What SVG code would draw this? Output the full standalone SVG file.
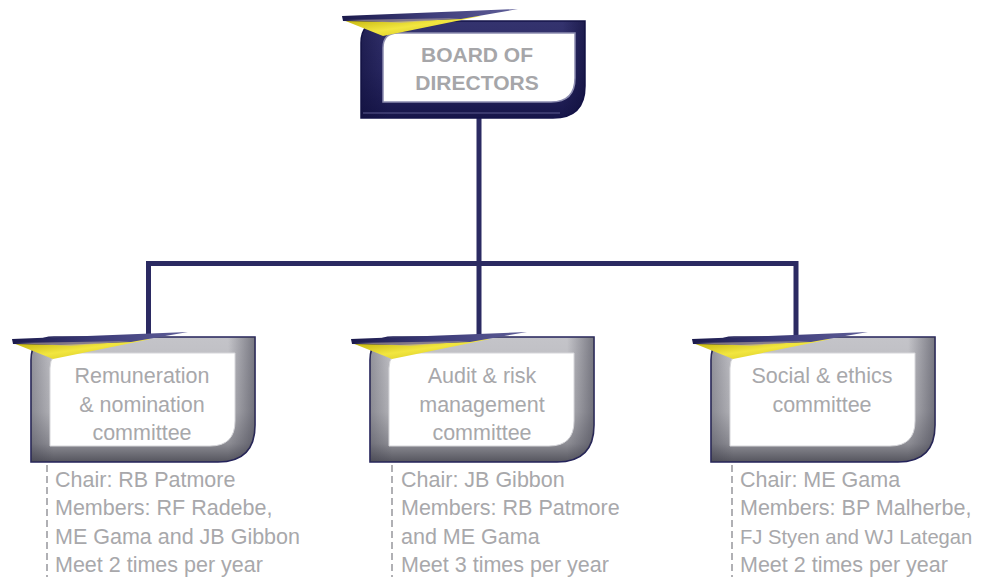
<svg xmlns="http://www.w3.org/2000/svg" width="984" height="577" viewBox="0 0 984 577">
<defs>
<linearGradient id="navyV" x1="0" y1="0" x2="0" y2="1">
<stop offset="0" stop-color="#34336e"/>
<stop offset="0.5" stop-color="#2a2963"/>
<stop offset="1" stop-color="#17164a"/>
</linearGradient>
<linearGradient id="navyH" x1="0" y1="0" x2="1" y2="0">
<stop offset="0" stop-color="#0f0e3a" stop-opacity="0.5"/>
<stop offset="0.12" stop-color="#0f0e3a" stop-opacity="0"/>
<stop offset="0.9" stop-color="#0f0e3a" stop-opacity="0"/>
<stop offset="1" stop-color="#0f0e3a" stop-opacity="0.6"/>
</linearGradient>
<linearGradient id="grayV" x1="0" y1="0" x2="0" y2="1">
<stop offset="0" stop-color="#c4c4c9"/>
<stop offset="0.6" stop-color="#b4b4b9"/>
<stop offset="0.85" stop-color="#8e8e95"/>
<stop offset="1" stop-color="#55555e"/>
</linearGradient>
<linearGradient id="grayH" x1="0" y1="0" x2="1" y2="0">
<stop offset="0" stop-color="#3a3a48" stop-opacity="0.35"/>
<stop offset="0.1" stop-color="#3a3a48" stop-opacity="0"/>
<stop offset="0.88" stop-color="#3a3a48" stop-opacity="0"/>
<stop offset="1" stop-color="#3a3a48" stop-opacity="0.55"/>
</linearGradient>
<linearGradient id="yellow" x1="0" y1="0" x2="1" y2="1">
<stop offset="0" stop-color="#b8a800"/>
<stop offset="0.5" stop-color="#f2e640"/>
<stop offset="1" stop-color="#c9bb10"/>
</linearGradient>
<linearGradient id="bladeDark" x1="0" y1="0" x2="1" y2="0">
<stop offset="0" stop-color="#1b1a4c"/>
<stop offset="0.5" stop-color="#3e3d7a"/>
<stop offset="1" stop-color="#5f5e98"/>
</linearGradient>
<g id="blade">
<polygon points="-18,6 120,2 22,22" fill="url(#yellow)"/>
<polygon points="-19,2 157,-5 100,5 30,8 -18,7" fill="url(#bladeDark)"/>
<polygon points="-16,6 100,4 40,9" fill="#b9a9a0" opacity="0.6"/>
</g>
<g id="childFrame">
<path d="M0,125 L0,23 Q0,0 23,0 L224,0 L224,88 Q224,125 187,125 Z" fill="url(#grayV)" stroke="#23225a" stroke-width="1.6"/>
<path d="M0,125 L0,23 Q0,0 23,0 L224,0 L224,88 Q224,125 187,125 Z" fill="url(#grayH)"/>
<path d="M19,93 L19,31 Q19,16 34,16 L204,16 L204,84 Q204,109 179,109 L19,109 Z" fill="#ffffff" stroke="#d6d6da" stroke-width="1"/>
</g>
</defs>
<style>
.conn{fill:none;stroke:#2b2a62;stroke-width:5;stroke-linecap:butt}
.dash{fill:none;stroke:#b0b0b4;stroke-width:2;stroke-dasharray:7,4}
.title{font-family:"Liberation Sans",Arial,sans-serif;font-size:21.5px;fill:#a8a8ab;text-anchor:middle}
.board{font-family:"Liberation Sans",Arial,sans-serif;font-size:21px;font-weight:bold;fill:#a6a6a9;text-anchor:middle}
.info{font-family:"Liberation Sans",Arial,sans-serif;font-size:21.5px;fill:#a8a8ab}
.narrow{font-size:20.2px}
</style>
<g id="connectors">
<polyline class="conn" points="479,118 479,263.5"/>
<polyline class="conn" points="148.5,335 148.5,263.5 796,263.5 796,335"/>
<polyline class="conn" points="479,263.5 479,335"/>
<line class="dash" x1="47" y1="465" x2="47" y2="577"/>
<line class="dash" x1="392" y1="465" x2="392" y2="577"/>
<line class="dash" x1="732" y1="465" x2="732" y2="577"/>
</g>
<g id="board-of-directors">
<path d="M361,118 L361,43 Q361,21 383,21 L585,21 L585,86 Q585,118 553,118 Z" fill="url(#navyV)" stroke="#15144a" stroke-width="1.5"/>
<path d="M361,118 L361,43 Q361,21 383,21 L585,21 L585,86 Q585,118 553,118 Z" fill="url(#navyH)"/>
<path d="M383,102 L383,48 Q383,33 398,33 L575,33 L575,78 Q575,102 551,102 Z" fill="#ffffff" stroke="#8c8cb0" stroke-width="1.5"/>
<line x1="363" y1="113" x2="560" y2="113" stroke="#5c5b90" stroke-width="1"/>
<use href="#blade" x="361" y="14"/>
<text class="board" x="477" y="62">BOARD OF</text>
<text class="board" x="477" y="90">DIRECTORS</text>
</g>
<g id="remuneration-committee">
<use href="#childFrame" x="31" y="337"/>
<use href="#blade" x="31" y="337"/>
<text class="title" x="142" y="383">Remuneration</text>
<text class="title" x="142" y="412">&amp; nomination</text>
<text class="title" x="142" y="440">committee</text>
<text class="info" x="55" y="487">Chair: RB Patmore</text>
<text class="info" x="55" y="515">Members: RF Radebe,</text>
<text class="info" x="55" y="544">ME Gama and JB Gibbon</text>
<text class="info" x="55" y="572">Meet 2 times per year</text>
</g>
<g id="audit-committee">
<use href="#childFrame" x="370" y="337"/>
<use href="#blade" x="370" y="337"/>
<text class="title" x="482" y="383">Audit &amp; risk</text>
<text class="title" x="482" y="412">management</text>
<text class="title" x="482" y="440">committee</text>
<text class="info" x="401" y="487">Chair: JB Gibbon</text>
<text class="info" x="401" y="515">Members: RB Patmore</text>
<text class="info" x="401" y="544">and ME Gama</text>
<text class="info" x="401" y="572">Meet 3 times per year</text>
</g>
<g id="social-ethics-committee">
<use href="#childFrame" x="711" y="337"/>
<use href="#blade" x="711" y="337"/>
<text class="title" x="822" y="383">Social &amp; ethics</text>
<text class="title" x="822" y="412">committee</text>
<text class="info" x="740" y="487">Chair: ME Gama</text>
<text class="info" x="740" y="515">Members: BP Malherbe,</text>
<text class="info narrow" x="740" y="544">FJ Styen and WJ Lategan</text>
<text class="info" x="740" y="572">Meet 2 times per year</text>
</g>
</svg>
